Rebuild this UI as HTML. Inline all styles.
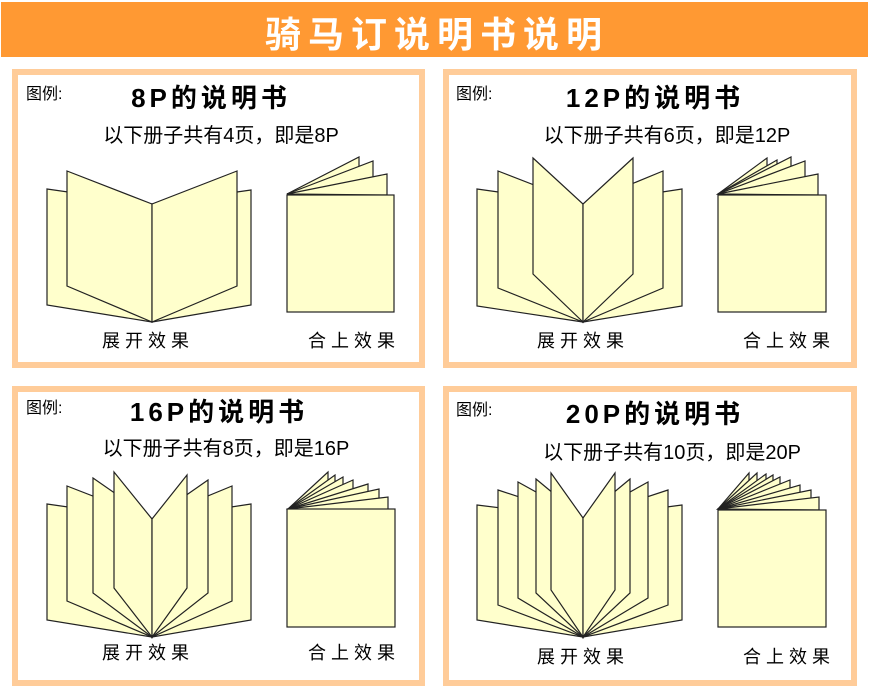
<!DOCTYPE html>
<html><head><meta charset="utf-8"><style>
html,body{margin:0;padding:0;background:#fff;}
svg{display:block;}
text{font-family:"Liberation Sans","Noto Sans CJK SC",sans-serif;}
.t{font-weight:bold;font-size:26px;letter-spacing:4px;text-anchor:middle;fill:#000;}
.s{font-size:20px;text-anchor:middle;fill:#000;}
.l{font-size:18px;letter-spacing:5px;fill:#000;}
.g{font-size:16px;fill:#000;}
polygon{fill:#FFFFCC;stroke:#222;stroke-width:1.2;stroke-linejoin:miter;}
</style></head><body>
<svg width="869" height="692" viewBox="0 0 869 692" xmlns="http://www.w3.org/2000/svg">
<rect x="0" y="0" width="869" height="692" fill="#fff"/>
<rect x="1" y="2" width="867" height="55" fill="#FF9933"/>
<text x="437" y="47" font-size="36" font-weight="bold" fill="#fff" text-anchor="middle" letter-spacing="7">骑马订说明书说明</text>

<rect x="15" y="72" width="407" height="293" fill="#fff" stroke="#FFCC99" stroke-width="6"/>
<rect x="446" y="72" width="408" height="293" fill="#fff" stroke="#FFCC99" stroke-width="6"/>
<rect x="15" y="389" width="407" height="294" fill="#fff" stroke="#FFCC99" stroke-width="6"/>
<rect x="446" y="389" width="408" height="294" fill="#fff" stroke="#FFCC99" stroke-width="6"/>

<!-- Panel 1: 8P -->
<text x="26" y="99" class="g">图例:</text>
<text x="211" y="107" class="t">8P的说明书</text>
<text x="221" y="142" class="s">以下册子共有4页，即是8P</text>
<polygon points="47,189 152,204 152,322 47,305"/>
<polygon points="251,190 152,204 152,322 251,305"/>
<polygon points="67,171 152,204 152,322 67,286"/>
<polygon points="237,171 152,204 152,322 237,286"/>
<polygon points="287,194 359,157 359,195"/>
<polygon points="287,194 373,161 373,195"/>
<polygon points="287,194 387,174 387,195"/>
<rect x="287" y="195" width="107" height="117" fill="#FFFFCC" stroke="#222" stroke-width="1.2"/>
<text x="102" y="347" class="l">展开效果</text>
<text x="308" y="347" class="l">合上效果</text>

<!-- Panel 2: 12P -->
<text x="456" y="99" class="g">图例:</text>
<text x="655" y="107" class="t">12P的说明书</text>
<text x="667" y="142" class="s">以下册子共有6页，即是12P</text>
<polygon points="477,189 583,204 583,322 477,306"/>
<polygon points="682,189 583,204 583,322 682,306"/>
<polygon points="498,171 583,204 583,322 498,288"/>
<polygon points="663,171 583,204 583,322 663,288"/>
<polygon points="533,158 583,204 583,322 533,274"/>
<polygon points="633,158 583,204 583,322 633,274"/>
<polygon points="718,194 767,158 767,195"/>
<polygon points="718,194 777,160 777,195"/>
<polygon points="718,194 791,157 791,195"/>
<polygon points="718,194 805,161 805,195"/>
<polygon points="718,194 818,174 818,195"/>
<rect x="718" y="195" width="108" height="117" fill="#FFFFCC" stroke="#222" stroke-width="1.2"/>
<text x="537" y="347" class="l">展开效果</text>
<text x="743" y="347" class="l">合上效果</text>

<!-- Panel 3: 16P -->
<text x="26" y="413" class="g">图例:</text>
<text x="219" y="421" class="t">16P的说明书</text>
<text x="226" y="455" class="s">以下册子共有8页，即是16P</text>
<polygon points="47,504 152,519 152,637 47,620"/>
<polygon points="251,504 152,519 152,637 251,620"/>
<polygon points="67,486 152,519 152,637 67,601"/>
<polygon points="232,486 152,519 152,637 232,601"/>
<polygon points="93,478 152,519 152,637 93,593"/>
<polygon points="208,480 152,519 152,637 208,593"/>
<polygon points="114,472 152,519 152,637 114,588"/>
<polygon points="187,475 152,519 152,637 187,588"/>
<polygon points="288,509 328,472 328,510"/>
<polygon points="288,509 335,475 335,510"/>
<polygon points="288,509 343,477 343,510"/>
<polygon points="288,509 353,480 353,510"/>
<polygon points="288,509 368,484 368,510"/>
<polygon points="288,509 379,489 379,510"/>
<polygon points="288,509 388,497 388,510"/>
<rect x="287" y="509" width="108" height="118" fill="#FFFFCC" stroke="#222" stroke-width="1.2"/>
<text x="102" y="659" class="l">展开效果</text>
<text x="308" y="659" class="l">合上效果</text>

<!-- Panel 4: 20P -->
<text x="456" y="415" class="g">图例:</text>
<text x="655" y="423" class="t">20P的说明书</text>
<text x="672" y="459" class="s">以下册子共有10页，即是20P</text>
<polygon points="477,505 583,518 583,637 477,620"/>
<polygon points="682,505 583,518 583,637 682,620"/>
<polygon points="498,490 583,518 583,637 498,605"/>
<polygon points="668,490 583,518 583,637 668,605"/>
<polygon points="518,482 583,518 583,637 518,598"/>
<polygon points="648,482 583,518 583,637 648,598"/>
<polygon points="536,479 583,518 583,637 536,593"/>
<polygon points="630,479 583,518 583,637 630,593"/>
<polygon points="551,473 583,518 583,637 551,590"/>
<polygon points="615,473 583,518 583,637 615,590"/>
<polygon points="718,509 749,473 749,510"/>
<polygon points="718,509 757,473 757,510"/>
<polygon points="718,509 766,474 766,510"/>
<polygon points="718,509 773,475 773,510"/>
<polygon points="718,509 780,477 780,510"/>
<polygon points="718,509 790,480 790,510"/>
<polygon points="718,509 800,485 800,510"/>
<polygon points="718,509 811,490 811,510"/>
<polygon points="718,509 819,497 819,510"/>
<rect x="718" y="510" width="108" height="117" fill="#FFFFCC" stroke="#222" stroke-width="1.2"/>
<text x="537" y="663" class="l">展开效果</text>
<text x="743" y="663" class="l">合上效果</text>
</svg>
</body></html>
